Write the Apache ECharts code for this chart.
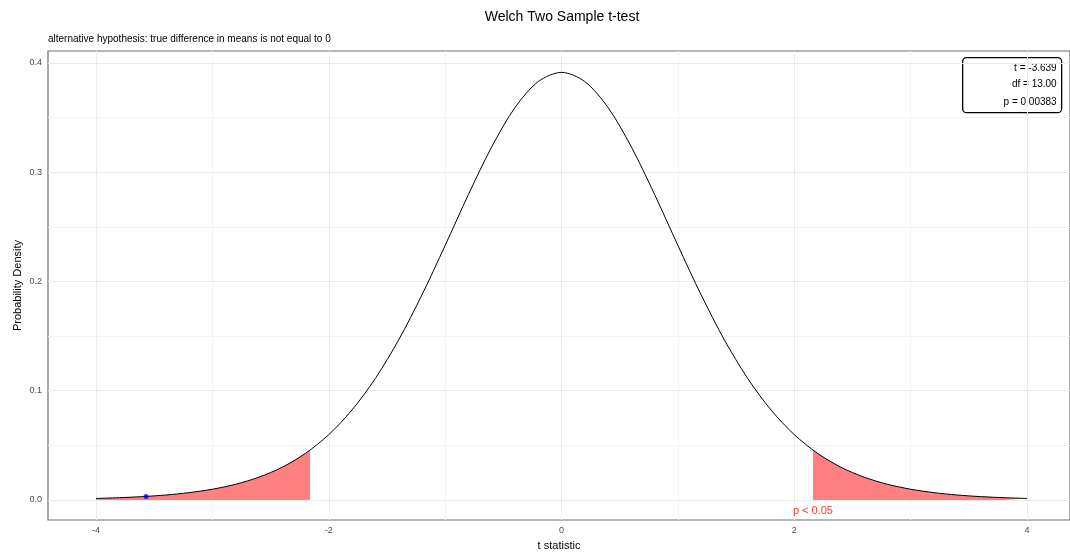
<!DOCTYPE html>
<html>
<head>
<meta charset="utf-8">
<script src="https://cdn.jsdelivr.net/npm/echarts@6/dist/echarts.min.js"></script>
<style>
  html, body { margin: 0; padding: 0; background: #fff; }
  #chart { width: 1070px; height: 557px; }
</style>
</head>
<body>
<div id="chart"></div>
<script>
// t statistic and the density
const tValues = [-4, -3.8, -3.6, -3.4, -3.2, -3, -2.8, -2.6, -2.4, -2.2, -2, -1.8, -1.6, -1.4, -1.2, -1, -0.8, -0.6, -0.4, -0.2,
  0, 0.2, 0.4, 0.6, 0.8, 1, 1.2, 1.4, 1.6, 1.8, 2, 2.2, 2.4, 2.6, 2.8, 3, 3.2, 3.4, 3.6, 3.8, 4]
const density = [0.00142, 0.0021, 0.00309, 0.00456, 0.00671, 0.00985, 0.0144, 0.0209, 0.03, 0.0427, 0.0598, 0.0824, 0.1112, 0.1464, 0.1876, 0.233, 0.2796, 0.3232, 0.3592, 0.383,
  0.3914, 0.383, 0.3592, 0.3232, 0.2796, 0.233, 0.1876, 0.1464, 0.1112, 0.0824, 0.0598, 0.0427, 0.03, 0.0209, 0.0144, 0.00985, 0.00671, 0.00456, 0.00309, 0.0021, 0.00142]

// critical value and observed statistic
const critT = 2.16
const critDensity = 0.0457
const observed = [-3.57, 0.0031]
const sigLabel = 'p < 0.05'
const sigLabelPos = [2.16, -0.0105]

const xTicks = [-4, -2, 0, 2, 4]
const xMinor = [-3, -1, 1, 3]
const yTicks = [0, 0.1, 0.2, 0.3, 0.4]
const yMinor = [0.05, 0.15, 0.25, 0.35]
const statLines = ['t = -3.639', 'df = 13.00', 'p = 0.00383']

const curve = tValues.map((t, i) => [t, density[i]])
const leftTail = curve.filter((p) => p[0] <= -critT).concat([[-critT, critDensity]])
const rightTail = [[critT, critDensity]].concat(curve.filter((p) => p[0] >= critT))

const font = 'Liberation Sans, Arial, sans-serif'

const gridLines = [].concat(
  xMinor.map((v) => ({ xAxis: v, lineStyle: { color: '#F4F4F4', width: 1 } })),
  yMinor.map((v) => ({ yAxis: v, lineStyle: { color: '#F4F4F4', width: 1 } })),
  xTicks.map((v) => ({ xAxis: v, lineStyle: { color: '#EBEBEB', width: 1 } })),
  yTicks.map((v) => ({ yAxis: v, lineStyle: { color: '#EBEBEB', width: 1 } }))
)

const option = {
  animation: false,
  textStyle: { fontFamily: font },
  grid: {
    left: 48, right: 0, top: 51, bottom: 37,
    show: true, backgroundColor: '#fff', borderColor: '#6e6e6e', borderWidth: 1.2,
  },
  xAxis: {
    type: 'value', min: -4.4125, max: 4.369,
    axisLine: { show: false },
    splitLine: { show: false },
    axisTick: { show: true, customValues: xTicks, length: 3, lineStyle: { color: '#333' } },
    axisLabel: { customValues: xTicks, color: '#4D4D4D', fontSize: 9, margin: 6, fontFamily: font },
    name: 't statistic', nameLocation: 'middle', nameGap: 20,
    nameTextStyle: { color: '#000', fontSize: 11, fontFamily: font },
  },
  yAxis: {
    type: 'value', min: -0.01832, max: 0.41098,
    axisLine: { show: false },
    splitLine: { show: false },
    axisTick: { show: true, customValues: yTicks, length: 3, lineStyle: { color: '#333' } },
    axisLabel: {
      customValues: yTicks, color: '#4D4D4D', fontSize: 9, margin: 6, fontFamily: font,
      formatter: (v) => v.toFixed(1),
    },
    name: 'Probability Density', nameLocation: 'middle', nameGap: 25, nameRotate: 90,
    nameMoveOverlap: false,
    nameTextStyle: { color: '#000', fontSize: 11, fontFamily: font },
  },
  series: [
    {
      type: 'line', data: [[0, 0]], symbol: 'none', silent: true,
      lineStyle: { opacity: 0 },
      markLine: { silent: true, symbol: 'none', z: 1, label: { show: false }, lineStyle: { type: 'solid' }, data: gridLines },
    },
    {
      type: 'line', data: leftTail, symbol: 'none', smooth: 0.3, z: 2,
      lineStyle: { width: 0 }, areaStyle: { color: '#FF8080', opacity: 1 },
    },
    {
      type: 'line', data: rightTail, symbol: 'none', smooth: 0.3, z: 2,
      lineStyle: { width: 0 }, areaStyle: { color: '#FF8080', opacity: 1 },
    },
    {
      type: 'line', data: curve, symbol: 'none', smooth: 0.3, z: 3,
      lineStyle: { color: '#000', width: 1 },
    },
    {
      type: 'scatter', data: [observed], symbolSize: 5, z: 4,
      itemStyle: { color: '#0000FF' },
    },
    {
      type: 'scatter', data: [sigLabelPos], symbolSize: 0, z: 4,
      label: { show: true, position: 'inside', formatter: sigLabel, color: '#FF0000', fontSize: 11, fontFamily: font },
    },
  ],
  graphic: [
    {
      type: 'text', x: 562, y: 17,
      style: { text: 'Welch Two Sample t-test', font: '14px ' + font, fill: '#000', align: 'center', verticalAlign: 'middle' },
    },
    {
      type: 'text', left: 48, top: 34,
      style: { text: 'alternative hypothesis: true difference in means is not equal to 0', font: '10px ' + font, fill: '#000' },
    },
    {
      type: 'group', left: 962, top: 57,
      children: [
        { type: 'rect', shape: { x: 0, y: 0, width: 99, height: 55, r: 4 }, style: { fill: '#fff', stroke: '#000', lineWidth: 1.3 } },
        { type: 'text', x: 94, y: 11, style: { text: statLines[0], font: '10px ' + font, fill: '#000', align: 'right', verticalAlign: 'middle' } },
        { type: 'text', x: 94, y: 27, style: { text: statLines[1], font: '10px ' + font, fill: '#000', align: 'right', verticalAlign: 'middle' } },
        { type: 'text', x: 94, y: 45, style: { text: statLines[2], font: '10px ' + font, fill: '#000', align: 'right', verticalAlign: 'middle' } },
      ],
    },
  ],
}

const chartObj = echarts.init(document.getElementById('chart'))
chartObj.setOption(option)
</script>
</body>
</html>
